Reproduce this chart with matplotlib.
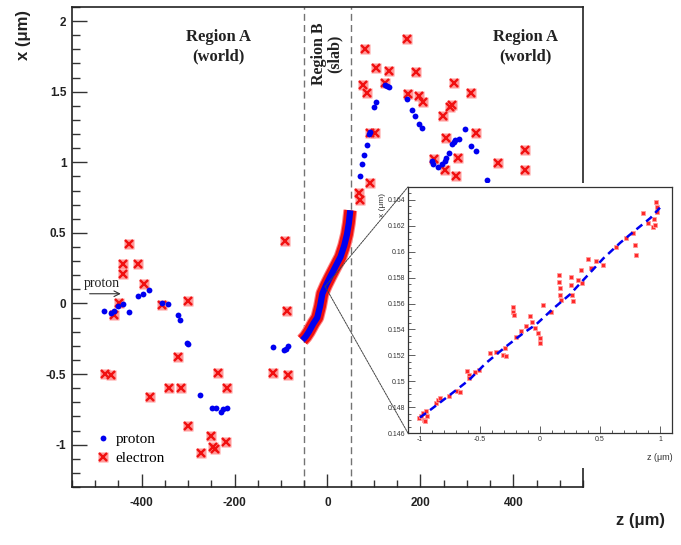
import matplotlib
matplotlib.use('Agg')
import matplotlib.pyplot as plt
from matplotlib.patches import Rectangle, ConnectionPatch
from matplotlib.ticker import MultipleLocator

plt.rcParams['font.family'] = ['Liberation Sans', 'DejaVu Sans']

# ---------------- main panel data ----------------
proton_z = [-482, -467, -460, -450, -441, -427, -408, -397, -385, -357, -343, -321, -318,
            -303, -300, -275, -249, -241, -230, -224, -216, -118, -94, -89, -84,
            69, 75, 78, 84, 90, 92, 101, 105, 123, 128, 132, 171, 181, 189, 198, 204,
            224, 227, 238, 247, 252, 256, 262, 269, 272, 275, 282, 295, 309, 320, 343]
proton_x = [-0.05, -0.065, -0.055, -0.02, -0.005, -0.06, 0.05, 0.064, 0.097, 0.0, -0.005, -0.085, -0.115,
            -0.28, -0.29, -0.65, -0.74, -0.74, -0.77, -0.75, -0.74, -0.31, -0.33, -0.32, -0.30,
            0.90, 0.99, 1.05, 1.12, 1.20, 1.215, 1.39, 1.43, 1.546, 1.54, 1.534, 1.447, 1.369, 1.326, 1.274, 1.246,
            1.007, 0.99, 0.967, 0.99, 1.007, 1.03, 1.068, 1.132, 1.144, 1.16, 1.168, 1.239, 1.113, 1.078, 0.872]

electron_z = [-428, -440, -408, -441, -396, -449, -460, -357, -301, -479, -467, -321, -341, -316,
              -383, -235, -216, -300, -273, -250, -246, -242, -219, -117, -85, -88, -92,
              80, 172, 105, 132, 191, 272, 77, 123, 85, 173, 198, 206, 263, 269, 248, 309,
              91, 102, 256, 320, 229, 280, 252, 277, 91, 67, 70, 426, 368, 426]
electron_x = [0.42, 0.28, 0.28, 0.21, 0.14, 0.0, -0.085, -0.01, 0.02, -0.5, -0.51, -0.38, -0.6, -0.6,
              -0.66, -0.49, -0.6, -0.87, -1.06, -0.94, -1.02, -1.03, -0.98, -0.49, -0.51, -0.05, 0.44,
              1.806, 1.872, 1.665, 1.648, 1.64, 1.565, 1.546, 1.565, 1.494, 1.487, 1.47, 1.428, 1.39, 1.404, 1.326, 1.49,
              1.208, 1.21, 1.172, 1.208, 1.026, 1.03, 0.943, 0.903, 0.856, 0.78, 0.735, 1.085, 0.995, 0.943]

# dense track inside the slab (region B)
slab_z = [-54, -47, -40, -30, -22, -16, -11, -3, 6, 17, 28, 36, 42, 46, 49]
slab_x = [-0.26, -0.235, -0.2, -0.14, -0.1, -0.02, 0.07, 0.13, 0.19, 0.26, 0.33, 0.41, 0.49, 0.57, 0.66]

region_edges = [-50, 50]

xticks = [-400, -200, 0, 200, 400]
xtick_labels = ['-400', '-200', '0', '200', '400']
yticks = [-1, -0.5, 0, 0.5, 1, 1.5, 2]
ytick_labels = ['-1', '-0.5', '0', '0.5', '1', '1.5', '2']

# ---------------- inset data ----------------
in_proton_z = [-1.0, -0.94, -0.84, -0.70, -0.59, -0.45, -0.28, -0.14, -0.03, 0.11, 0.25, 0.39, 0.53, 0.67, 0.80, 0.92, 1.0]
in_proton_x = [0.1472, 0.1476, 0.1483, 0.1493, 0.1501, 0.1514, 0.1527, 0.1537, 0.1544, 0.1556, 0.1567,
               0.1581, 0.1595, 0.1607, 0.1617, 0.1626, 0.1634]

in_electron_z = [-1.006, -0.992, -0.978, -0.964, -0.950, -0.944, -0.955, -0.866, -0.847, -0.830, -0.755,
                 -0.694, -0.666, -0.610, -0.593, -0.588, -0.538, -0.510, -0.415, -0.365, -0.309, -0.287,
                 -0.281, -0.226, -0.226, -0.220, -0.198, -0.156, -0.120, -0.081, -0.064, -0.045, -0.017,
                 -0.003, 0.003, 0.025, 0.095, 0.156, 0.159, 0.164, 0.170, 0.178, 0.256, 0.262, 0.267,
                 0.276, 0.318, 0.345, 0.354, 0.401, 0.471, 0.429, 0.526, 0.638, 0.721, 0.777, 0.791,
                 0.797, 0.861, 0.903, 0.939, 0.950, 0.967, 0.972, 0.978, 0.958]
in_electron_x = [0.14716, 0.14734, 0.14754, 0.14703, 0.14767, 0.14729, 0.14690, 0.14831, 0.14857, 0.14870,
                 0.14883, 0.14921, 0.14914, 0.15076, 0.15050, 0.15024, 0.15068, 0.15088, 0.15217, 0.15222,
                 0.15204, 0.15256, 0.15191, 0.15572, 0.15538, 0.15513, 0.15345, 0.15384, 0.15423, 0.15500,
                 0.15461, 0.15410, 0.15371, 0.15333, 0.15294, 0.15590, 0.15531, 0.15821, 0.15770, 0.15718,
                 0.15667, 0.15628, 0.15808, 0.15744, 0.15667, 0.15616, 0.15782, 0.15860, 0.15757, 0.15942,
                 0.15932, 0.15872, 0.15898, 0.16034, 0.16104, 0.16142, 0.16052, 0.15975, 0.16297, 0.16220,
                 0.16194, 0.16250, 0.16387, 0.16348, 0.16309, 0.16207]

in_xticks = [-1, -0.5, 0, 0.5, 1]
in_xtick_labels = ['-1', '-0.5', '0', '0.5', '1']
in_yticks = [0.146, 0.148, 0.150, 0.152, 0.154, 0.156, 0.158, 0.160, 0.162, 0.164]
in_ytick_labels = ['0.146', '0.148', '0.15', '0.152', '0.154', '0.156', '0.158', '0.16', '0.162', '0.164']

RED = '#f01010'
BLUE = '#0000f0'
SERIF = 'Liberation Serif'

fig = plt.figure(figsize=(6.81, 5.45), dpi=100)
ax = fig.add_axes([0.1057, 0.1064, 0.7504, 0.8807])
ax.set_xlim(-550, 550)
ax.set_ylim(-1.3, 2.1)

for s in ax.spines.values():
    s.set_linewidth(1.2)
    s.set_color('#222222')

ax.set_xticks(xticks, xtick_labels)
ax.set_yticks(yticks, ytick_labels)
ax.xaxis.set_minor_locator(MultipleLocator(50))
ax.yaxis.set_minor_locator(MultipleLocator(0.1))
ax.tick_params(which='both', direction='in', top=False, right=False, color='#333333', width=1.0)
ax.tick_params(axis='y', which='major', length=11, pad=4)
ax.tick_params(axis='y', which='minor', length=5.5)
ax.tick_params(axis='x', which='major', length=9.5, pad=7)
ax.tick_params(axis='x', which='minor', length=5)
for lab in ax.get_xticklabels() + ax.get_yticklabels():
    lab.set_fontweight('bold')
    lab.set_fontsize(8.5)
    lab.set_color('#222222')

# region boundaries
for zb in region_edges:
    ax.axvline(zb, color='0.45', ls=(0, (5, 3)), lw=1.0, zorder=1)

# slab track
ax.plot(slab_z, slab_x, color='#ff8080', lw=10, solid_capstyle='butt', zorder=3)
ax.plot(slab_z, slab_x, color=RED, lw=8.5, solid_capstyle='butt', zorder=3)
ax.plot(slab_z, slab_x, color=BLUE, lw=4.5, solid_capstyle='butt', zorder=4)

# electrons
hs, = ax.plot(electron_z, electron_x, ls='none', marker='s', ms=7, mfc='#ff9a9a', mec='none', zorder=3)
hx, = ax.plot(electron_z, electron_x, ls='none', marker='x', ms=5.5, mew=1.7, color=RED, zorder=4)
# protons
hp, = ax.plot(proton_z, proton_x, ls='none', marker='o', ms=4.2, mfc=BLUE, mec='none', zorder=5)

# texts
ax.text(-234, 1.82, 'Region A\n(world)', ha='center', va='center', family=SERIF,
        weight='bold', fontsize=12, linespacing=1.25, color='#222222')
ax.text(426, 1.82, 'Region A\n(world)', ha='center', va='center', family=SERIF,
        weight='bold', fontsize=12, linespacing=1.25, color='#222222')
ax.text(-2, 1.77, 'Region B\n(slab)', ha='center', va='center', family=SERIF,
        weight='bold', fontsize=11.5, linespacing=0.95, rotation=90, color='#222222')

ax.annotate('', xy=(-439, 0.069), xytext=(-518, 0.069),
            arrowprops=dict(arrowstyle='->', lw=0.8, color='#333333'))
ax.text(-486, 0.14, 'proton', ha='center', va='center', family=SERIF, fontsize=10, color='#222222')

leg = ax.legend([hp, (hs, hx)], ['proton', 'electron'], loc='lower left',
                bbox_to_anchor=(0.049, 0.046), borderaxespad=0, borderpad=0,
                frameon=False, handlelength=0.8, handletextpad=0.4, labelspacing=0.35,
                prop={'family': SERIF, 'size': 11})

fig.text(0.034, 1 - 35 / 545, 'x (μm)', rotation=90, ha='center', va='center',
         weight='bold', fontsize=12, color='#222222')
fig.text(641 / 681, 1 - 520 / 545, 'z (μm)', ha='center', va='center',
         weight='bold', fontsize=12, color='#222222')

# ---------------- inset ----------------
fig.add_artist(Rectangle((0.587, 0.141), 0.413, 0.523, transform=fig.transFigure,
                         facecolor='white', edgecolor='none', zorder=1))

axin = fig.add_axes([0.599, 0.2055, 0.3877, 0.4514], zorder=2)
axin.set_xlim(-1.1, 1.1)
axin.set_ylim(0.146, 0.165)
for s in axin.spines.values():
    s.set_linewidth(0.9)
    s.set_color('#333333')
axin.set_xticks(in_xticks, in_xtick_labels)
axin.set_yticks(in_yticks, in_ytick_labels)
axin.xaxis.set_minor_locator(MultipleLocator(0.1))
axin.yaxis.set_minor_locator(MultipleLocator(0.0005))
axin.tick_params(which='both', direction='in', top=False, right=False, labelsize=5,
                 color='#444444', width=0.6, labelcolor='#333333')
axin.tick_params(which='major', length=5, pad=2)
axin.tick_params(which='minor', length=2.5)

axin.plot(in_electron_z, in_electron_x, ls='none', marker='s', ms=2.8, mfc='#ff2a2a',
          mec='#ff9a9a', mew=0.6, zorder=3)
axin.plot(in_proton_z, in_proton_x, color=BLUE, lw=1.8, ls=(0, (3, 2)), zorder=4)

fig.text(383 / 681, 1 - 205 / 545, 'x (μm)', rotation=90, ha='center', va='center',
         fontsize=6, color='#333333')
fig.text(660 / 681, 1 - 457 / 545, 'z (μm)', ha='center', va='center',
         fontsize=6.5, color='#333333')

# zoom connector lines
for corner in [(0, 1), (0, 0)]:
    cp = ConnectionPatch(xyA=(-5, 0.12), coordsA=ax.transData, xyB=corner, coordsB=axin.transAxes,
                         color='#444444', lw=0.7, ls=(0, (2, 1)), zorder=1.5)
    fig.add_artist(cp)

fig.savefig('out.png', dpi=100)
